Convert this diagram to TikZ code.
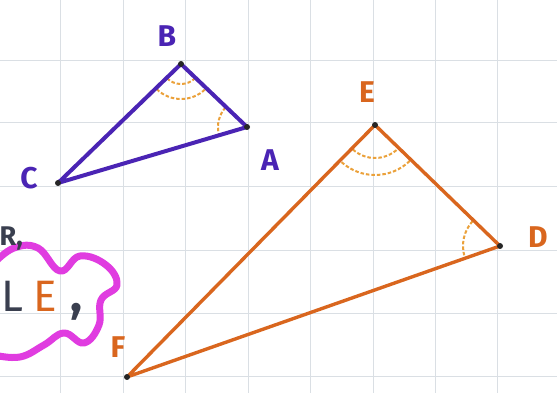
\documentclass[tikz,border=0pt]{standalone}
\usepackage{fontspec}
\setmainfont{Fira Sans}
\begin{document}
\begin{tikzpicture}[x=1pt,y=1pt,
  gridline/.style={draw=gridc,line width=0.8pt},
  tri1/.style={draw=purp,line width=4pt,line join=round,line cap=round},
  tri2/.style={draw=oran,line width=3.4pt,line join=round,line cap=round},
  anglearc/.style={draw=arcc,line width=2pt,dash pattern=on 3.5pt off 2pt},
  vdot/.style={fill=black!85},
  lblP/.style={text=purp,font=\fontsize{30}{30}\selectfont\bfseries,inner sep=0pt},
  lblO/.style={text=oran,font=\fontsize{30}{30}\selectfont\bfseries,inner sep=0pt},
  hand/.style={font=\fontsize{44}{44}\selectfont,inner sep=0pt,anchor=base west},
  cloudline/.style={draw=magc,line width=7pt,line cap=round,line join=round}]
\definecolor{gridc}{HTML}{DADFE4}
\definecolor{purp}{HTML}{4A24B4}
\definecolor{oran}{HTML}{D9661E}
\definecolor{arcc}{HTML}{EBA13A}
\definecolor{magc}{HTML}{E03CE0}
\definecolor{darkc}{HTML}{3A3F4F}
\useasboundingbox (0,0) rectangle (557,393);
\fill[white] (0,0) rectangle (557,393);
% grid
\foreach \gx in {60,123,185,248,310,373,435,497}
  \draw[gridline] (\gx,0) -- (\gx,393);
\foreach \gy in {333,271,207,143,80,17}
  \draw[gridline] (0,\gy) -- (557,\gy);
% vertices
\coordinate (B) at (181,329);
\coordinate (A) at (247,266);
\coordinate (C) at (58,210);
\coordinate (E) at (375,268);
\coordinate (D) at (500,147);
\coordinate (F) at (127,16);
% angle marks
\draw[anglearc] ([shift={(B)}]226:20pt) arc[start angle=226,end angle=314,radius=20pt];
\draw[anglearc] ([shift={(B)}]226:35pt) arc[start angle=226,end angle=314,radius=35pt];
\draw[anglearc] ([shift={(A)}]138:29pt) arc[start angle=138,end angle=194,radius=29pt];
\draw[anglearc] ([shift={(E)}]228:33pt) arc[start angle=228,end angle=314,radius=33pt];
\draw[anglearc] ([shift={(E)}]228:50pt) arc[start angle=228,end angle=314,radius=50pt];
\draw[anglearc] ([shift={(D)}]138:37pt) arc[start angle=138,end angle=197,radius=37pt];
% triangles
\draw[tri1] (A) -- (B) -- (C) -- cycle;
\draw[tri2] (D) -- (E) -- (F) -- cycle;
\foreach \v in {A,B,C,D,E,F} \fill[vdot] (\v) circle (3pt);
% labels
\node[lblP] (lB) at (167,357) {B};
\node[lblP] (lA) at (270,233) {A};
\node[lblP] (lC) at (29,215) {C};
\node[lblO] (lE) at (367,301) {E};
\node[lblO] (lD) at (538,156) {D};
\node[lblO] (lF) at (118,46) {F};
% cloud
\draw[cloudline] plot[smooth,tension=0.7] coordinates {(-6,130) (14,145) (38,145) (60,122) (80,137) (106,128) (117,108) (101,93) (99,68) (84,50) (64,60) (44,48) (20,36) (-6,38)};
\node[text=darkc,anchor=base east,inner sep=0pt,font=\fontsize{27}{27}\selectfont\bfseries] (rr) at (23,147) {R,};
\node[hand,text=darkc] (lL) at (1,81) {L};
\node[hand,text=oran] (lE2) at (33,81) {E};
\node[hand,text=darkc,font=\fontsize{50}{50}\selectfont\bfseries] (lcomma) at (70,81) {,};
\end{tikzpicture}
\end{document}
